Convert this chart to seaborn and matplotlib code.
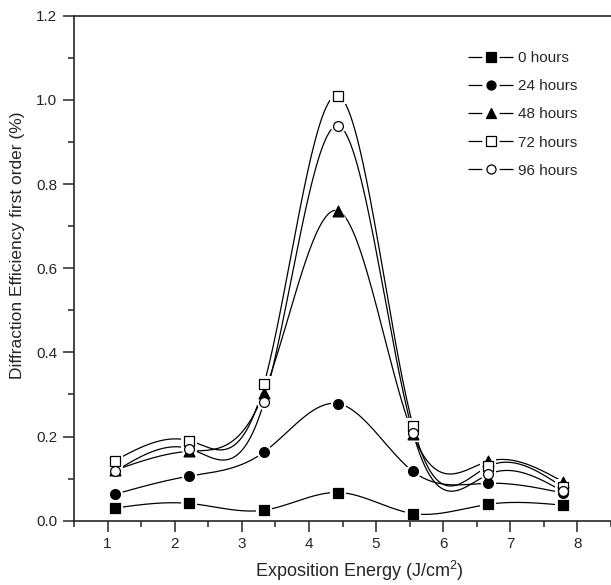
import numpy as np
import pandas as pd
import matplotlib
matplotlib.use("Agg")
import matplotlib.pyplot as plt
import seaborn as sns
from matplotlib.lines import Line2D
from matplotlib.ticker import MultipleLocator, FormatStrFormatter

# ---------------- data ----------------
energy = [1.11, 2.22, 3.33, 4.44, 5.55, 6.67, 7.78]
h0 = [0.030, 0.041, 0.025, 0.067, 0.017, 0.039, 0.037]
h24 = [0.063, 0.106, 0.163, 0.278, 0.117, 0.089, 0.066]
h48 = [0.120, 0.165, 0.304, 0.736, 0.205, 0.141, 0.093]
h72 = [0.143, 0.190, 0.324, 1.010, 0.226, 0.129, 0.080]
h96 = [0.117, 0.171, 0.282, 0.938, 0.209, 0.110, 0.070]
series_labels = ["0 hours", "24 hours", "48 hours", "72 hours", "96 hours"]
series_values = [h0, h24, h48, h72, h96]

# ---------------- style ----------------
sns.set_style("ticks")
plt.rcParams["font.family"] = ["Liberation Sans", "DejaVu Sans"]
plt.rcParams["mathtext.default"] = "regular"
plt.rcParams["lines.scale_dashes"] = False

markers = ["s", "o", "^", "s", "o"]
filled = [True, True, True, False, False]


def natural_spline(x, y, xs):
    x = np.asarray(x, float)
    y = np.asarray(y, float)
    n = len(x)
    h = np.diff(x)
    A = np.zeros((n, n))
    r = np.zeros(n)
    A[0, 0] = 1.0
    A[-1, -1] = 1.0
    for i in range(1, n - 1):
        A[i, i - 1] = h[i - 1]
        A[i, i] = 2 * (h[i - 1] + h[i])
        A[i, i + 1] = h[i]
        r[i] = 6 * ((y[i + 1] - y[i]) / h[i] - (y[i] - y[i - 1]) / h[i - 1])
    M = np.linalg.solve(A, r)
    idx = np.clip(np.searchsorted(x, xs) - 1, 0, n - 2)
    x0, x1 = x[idx], x[idx + 1]
    hh = x1 - x0
    return (M[idx] * (x1 - xs) ** 3 / (6 * hh) + M[idx + 1] * (xs - x0) ** 3 / (6 * hh)
            + (y[idx] / hh - M[idx] * hh / 6) * (x1 - xs)
            + (y[idx + 1] / hh - M[idx + 1] * hh / 6) * (xs - x0))


# data frames
pts = pd.concat([pd.DataFrame({"energy": energy, "eff": v, "series": lab})
                 for lab, v in zip(series_labels, series_values)], ignore_index=True)
xs = np.linspace(energy[0], energy[-1], 400)
curves = pd.concat([pd.DataFrame({"energy": xs, "eff": natural_spline(energy, v, xs), "series": lab})
                    for lab, v in zip(series_labels, series_values)], ignore_index=True)

fig = plt.figure(figsize=(6.11, 5.85), dpi=100)
ax = fig.add_axes([74 / 611, 1 - 520.7 / 585, 1 - 74 / 611, (520.7 - 15.7) / 585])

# curves
for lab in series_labels:
    sns.lineplot(data=curves[curves.series == lab], x="energy", y="eff", ax=ax,
                 color="black", linewidth=0.9, legend=False, zorder=2)

# white halos (gaps of the lines around markers)
for lab, m in zip(series_labels, markers):
    d = pts[pts.series == lab]
    ax.scatter(d.energy, d.eff, marker=m, s=120, color="white", linewidths=0, zorder=3)

# markers
for lab, m, f in zip(series_labels, markers, filled):
    d = pts[pts.series == lab]
    sns.scatterplot(data=d, x="energy", y="eff", ax=ax, marker=m, s=50 if m != "^" else 60,
                    facecolor="black" if f else "white", edgecolor="black",
                    linewidth=0.9, legend=False, zorder=4)

ax.set_xlim(0.5, 8.5)
ax.set_ylim(0.0, 1.2)
ax.xaxis.set_major_locator(MultipleLocator(1))
ax.xaxis.set_minor_locator(MultipleLocator(0.5))
ax.yaxis.set_major_locator(MultipleLocator(0.2))
ax.yaxis.set_minor_locator(MultipleLocator(0.1))
ax.yaxis.set_major_formatter(FormatStrFormatter("%.1f"))
ax.tick_params(which="major", direction="out", length=8, width=1.1, labelsize=11, pad=4)
ax.tick_params(which="minor", direction="out", length=4.5, width=1.1)
for s in ["left", "bottom", "top"]:
    ax.spines[s].set_linewidth(1.2)
    ax.spines[s].set_zorder(6)
ax.spines["right"].set_visible(False)

ax.set_xlabel("Exposition Energy (J/cm$^2$)", fontsize=13)
ax.xaxis.set_label_coords((359.5 - 74) / (611 - 74), -0.075)
ax.set_ylabel("Diffraction Efficiency first order (%)", fontsize=12.5)
ax.yaxis.set_label_coords(-0.091, (520.7 - 245) / 505)

handles = [Line2D([], [], color="black", linewidth=0.9, dashes=(10, 12.4, 10, 200),
                  marker=m, markersize=6.5,
                  markerfacecolor="black" if f else "white", markeredgecolor="black",
                  markeredgewidth=0.9)
           for m, f in zip(markers, filled)]
fig.legend(handles, series_labels, loc="upper left", numpoints=1,
           bbox_to_anchor=(468 / 611, 1 - 51 / 585), bbox_transform=fig.transFigure,
           frameon=False, fontsize=11, handlelength=2.95, handletextpad=0.35,
           labelspacing=0.93, borderpad=0, borderaxespad=0)

fig.savefig("out.png", dpi=100)
